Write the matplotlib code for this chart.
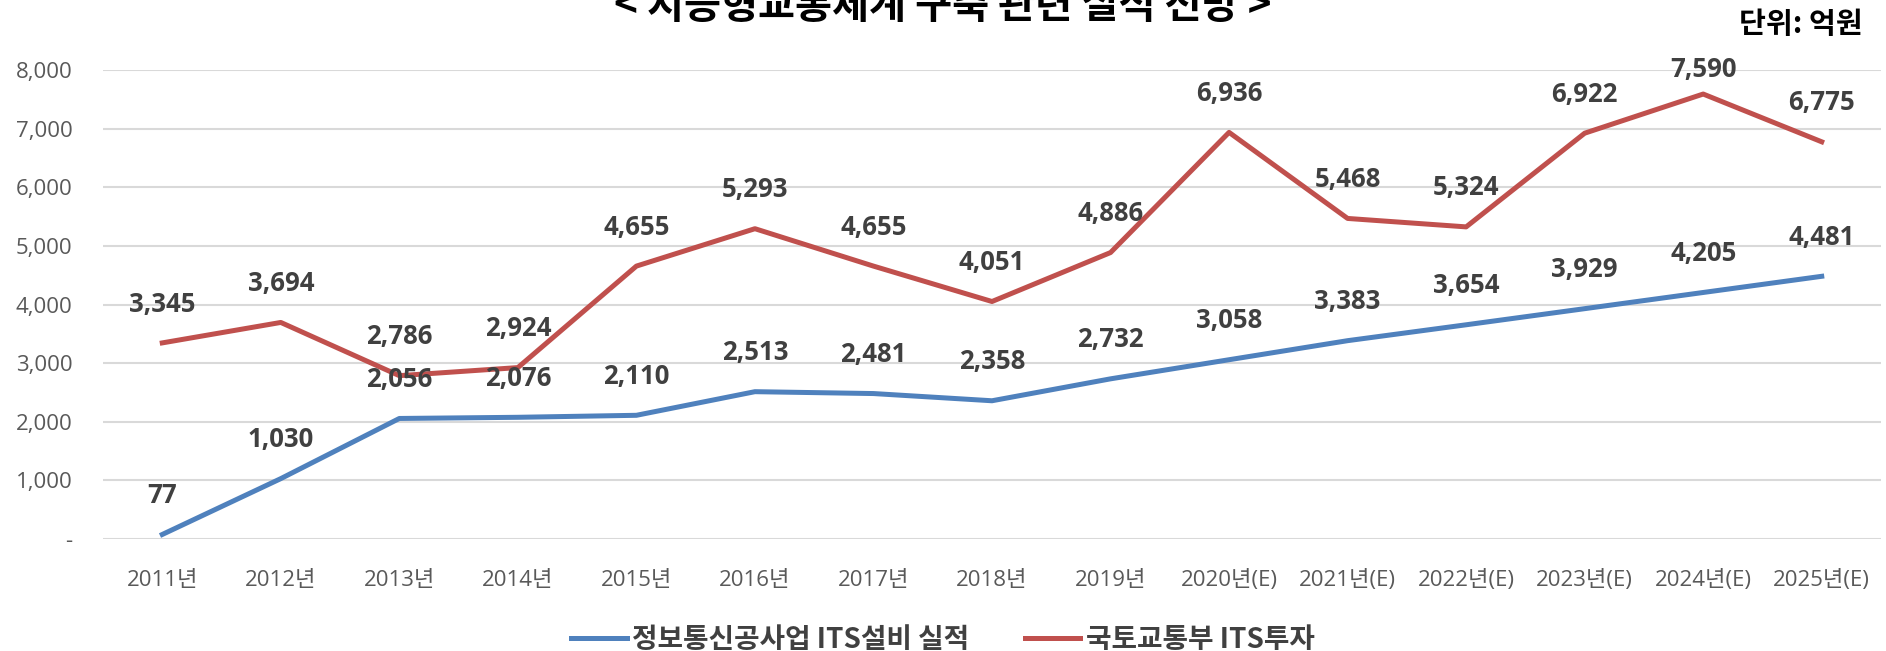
import numpy as np
import matplotlib
matplotlib.use("Agg")
import matplotlib.pyplot as plt
from matplotlib.ticker import FuncFormatter

plt.rcParams['font.family'] = ['Open Sans', 'Noto Sans CJK KR', 'DejaVu Sans']

years = ['2011년', '2012년', '2013년', '2014년', '2015년', '2016년', '2017년', '2018년',
         '2019년', '2020년(E)', '2021년(E)', '2022년(E)', '2023년(E)', '2024년(E)', '2025년(E)']
its_equip = [77, 1030, 2056, 2076, 2110, 2513, 2481, 2358, 2732, 3058, 3383, 3654, 3929, 4205, 4481]
molit_its = [3345, 3694, 2786, 2924, 4655, 5293, 4655, 4051, 4886, 6936, 5468, 5324, 6922, 7590, 6775]
series_names = ['정보통신공사업 ITS설비 실적', '국토교통부 ITS투자']

blue = '#4f81bd'
red = '#c0504d'
txt = '#404040'
kr = ['Noto Sans CJK KR', 'DejaVu Sans']

fig = plt.figure(figsize=(18.86, 6.51), dpi=100)
ax_h = (539 - 70) / 651
ax = fig.add_axes([103/1886, 1-539/651, (1881-103)/1886, ax_h])

x = np.arange(len(years))
ax.plot(x, its_equip, color=blue, lw=3.6, solid_joinstyle='round', label=series_names[0])
ax.plot(x, molit_its, color=red, lw=3.6, solid_joinstyle='round', label=series_names[1])

ymax = 8000
pt_per_unit = ax_h * 6.51 * 72 / ymax
for vals in (its_equip, molit_its):
    for i, v in enumerate(vals):
        # labels sit above the point but not above the plot area top
        off = min(28, (ymax - v) * pt_per_unit)
        ax.annotate(f'{v:,}', (i, v), xytext=(0, off), textcoords='offset points',
                    ha='center', va='center', fontsize=18.5, fontweight='bold', color=txt)

ax.set_xlim(-0.5, len(years) - 0.5)
ax.set_ylim(0, ymax)
ax.set_yticks(np.arange(0, ymax + 1, 1000))
ax.yaxis.set_major_formatter(FuncFormatter(lambda v, p: '-' if v == 0 else f'{int(v):,}'))
ax.set_xticks(x)
ax.set_xticklabels(years)
ax.tick_params(axis='both', length=0, labelsize=16, labelcolor='#595959')
ax.tick_params(axis='y', pad=22)
ax.tick_params(axis='x', pad=22)
ax.grid(axis='y', color='#d9d9d9', lw=1.5)
ax.set_axisbelow(True)
for s in ax.spines.values():
    s.set_visible(False)

fig.text(0.5, 1-18/651, '< 지능형교통체계 구축 관련 실적 전망 >', ha='center', va='baseline',
         fontsize=29, fontweight='bold', color='black', family=kr)
fig.text(1863/1886, 1-24/651, '단위: 억원', ha='right', va='center',
         fontsize=21, fontweight='bold', color='black', family=kr)

fig.legend(loc='center', bbox_to_anchor=(0.5, 1-640/651), ncol=2, frameon=False,
           prop={'family': kr, 'size': 20, 'weight': 'bold'}, labelcolor=txt, handlelength=2.0,
           columnspacing=2.0, handletextpad=0.2)

fig.savefig('out.png', dpi=100)
